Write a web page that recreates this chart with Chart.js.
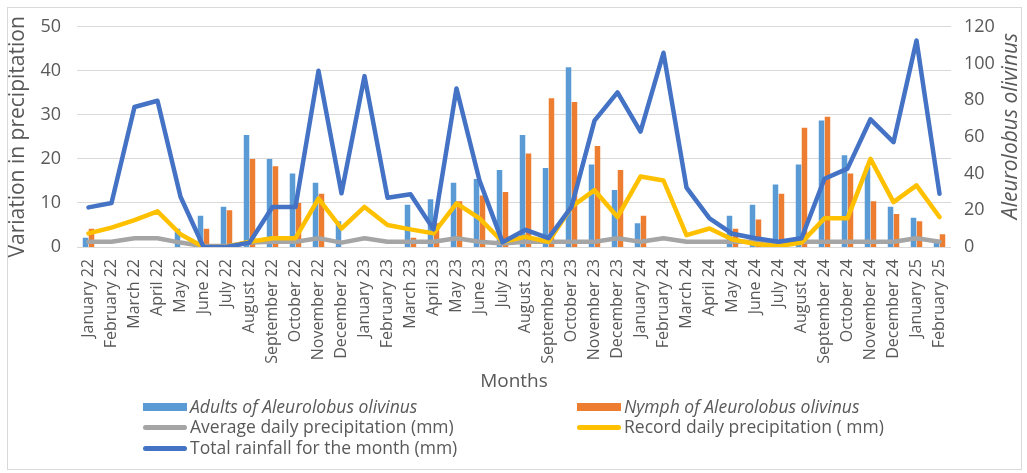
<!DOCTYPE html>
<html><head><meta charset="utf-8">
<script src="https://cdn.jsdelivr.net/npm/chart.js@4/dist/chart.umd.min.js"></script>
<style>
html,body{margin:0;padding:0;background:#fff;}
#wrap{position:relative;width:1027px;height:473px;overflow:hidden;}
#frame{position:absolute;left:7px;top:7px;width:1015px;height:463px;border:1px solid #d9d9d9;box-sizing:border-box;}
#cv{position:absolute;left:0;top:0;}
.leg{position:absolute;font-family:'Open Sans';font-size:17.5px;color:#595959;white-space:nowrap;line-height:20px;}
.sw{position:absolute;}
</style></head><body>
<div id="wrap"><div id="frame"></div><canvas id="cv" width="1027" height="473"></canvas><div id="legend"></div></div>
<script>
const months = ["January 22","February 22","March 22","April 22","May 22","June 22","July 22","August 22","September 22","October 22","November 22","December 22",
"January 23","February 23","March 23","April 23","May 23","June 23","July 23","August 23","September 23","October 23","November 23","December 23",
"January 24","February 24","March 24","April 24","May 24","June 24","July 24","August 24","September 24","October 24","November 24","December 24",
"January 25","February 25"];

// Right axis (Aleurolobus olivinus)
const adults = [5,0,0,0,10,17,22,61,48,40,35,14, 0,0,23,26,35,37,42,61,43,98,45,31, 13,0,0,0,17,23,34,45,69,50,44,22, 16,3];
const nymphs = [10,0,0,0,0,10,20,48,44,24,29,0, 0,0,5,13,25,28,30,51,81,79,55,42, 17,0,0,0,10,15,29,65,71,40,25,18, 14,7];

// Left axis (precipitation)
const avgDaily = [1.2,1.2,2.0,2.0,1.0,0.2,0.2,1.0,1.2,1.2,2.0,1.0, 2.0,1.2,1.2,1.2,2.0,1.2,0.8,1.2,1.2,1.2,1.2,2.0, 1.2,2.0,1.2,1.2,1.2,1.2,1.0,1.2,1.2,1.2,1.2,1.2, 2.0,1.2];
const recordDaily = [3.1,4.4,6.1,8.1,2.9,0,0,1.2,2.0,2.0,11.0,4.2, 9.1,5.0,4.0,3.1,9.9,6.5,1.2,2.3,1.2,9.1,12.9,6.8, 16.0,15.1,2.7,4.2,1.7,0.7,0.2,1.0,6.5,6.5,20.0,10.2, 14.0,6.8];
const totalRain = [9.0,10.0,31.8,33.2,11.4,0,0,1.0,9.1,9.1,40.0,12.2, 38.8,11.2,12.0,4.0,36.0,15.1,1.1,3.9,2.0,9.1,28.7,35.1, 26.2,44.1,13.5,6.5,3.0,2.0,1.2,2.0,15.5,17.8,29.0,23.8, 46.9,12.1];

const leftTicks = [0,10,20,30,40,50];
const rightTicks = [0,20,40,60,80,100,120];

const seriesNames = ["Adults of Aleurolobus olivinus","Nymph of Aleurolobus olivinus","Average daily precipitation (mm)","Record daily precipitation ( mm)","Total rainfall for the month (mm)"];
const seriesColors = ["#5B9BD5","#ED7D31","#A5A5A5","#FFC000","#4472C4"];
const xTitle = "Months";
const leftTitle = "Variation in precipitation";
const rightTitle = "Aleurolobus olivinus";

const TXT = "#595959";
const FONT = "'Open Sans'";

const rightTitlePlugin = {
  id:'rightTitle',
  afterDraw(chart){
    const {ctx} = chart;
    ctx.save();
    ctx.font = 'italic 21px ' + FONT;
    ctx.fillStyle = TXT;
    ctx.textAlign = 'center';
    ctx.textBaseline = 'middle';
    ctx.translate(1011, 126);
    ctx.rotate(-Math.PI/2);
    ctx.fillText(rightTitle, 0, 0);
    ctx.restore();
  }
};

const lineDs = (i, data, order) => ({
  type:'line', label:seriesNames[i], data, yAxisID:'y', order,
  borderColor:seriesColors[i], backgroundColor:seriesColors[i],
  borderWidth:4.5, pointRadius:0, tension:0, fill:false,
  borderCapStyle:'round', borderJoinStyle:'round'
});

new Chart(document.getElementById('cv'), {
  type:'bar',
  data:{
    labels:months,
    datasets:[
      {label:seriesNames[0], data:adults, backgroundColor:seriesColors[0], yAxisID:'y1', order:3, categoryPercentage:0.52, barPercentage:0.92},
      {label:seriesNames[1], data:nymphs, backgroundColor:seriesColors[1], yAxisID:'y1', order:4, categoryPercentage:0.52, barPercentage:0.92},
      lineDs(2, avgDaily, 2),
      lineDs(3, recordDaily, 1),
      lineDs(4, totalRain, 0)
    ]
  },
  options:{
    responsive:false, animation:false,
    layout:{padding:{left:5, right:0, top:25, bottom:78}},
    plugins:{legend:{display:false}, tooltip:{enabled:false}},
    scales:{
      x:{
        grid:{display:false}, border:{display:false},
        ticks:{autoSkip:false, maxRotation:90, minRotation:90, color:TXT, font:{family:FONT, size:16}, padding:4},
        title:{display:true, text:xTitle, color:TXT, font:{family:FONT, size:19}, padding:{top:0,bottom:2}},
        afterFit(s){ s.height = 148; }
      },
      y:{
        position:'left', min:0, max:50,
        afterBuildTicks(s){ s.ticks = leftTicks.map(v=>({value:v})); },
        grid:{color:'#d9d9d9', lineWidth:1, drawTicks:false}, border:{display:false},
        ticks:{color:TXT, font:{family:FONT, size:18}, padding:16},
        title:{display:true, text:leftTitle, color:TXT, font:{family:FONT, size:21}, padding:0},
        afterFit(s){ s.width = 72; }
      },
      y1:{
        position:'right', min:0, max:120,
        afterBuildTicks(s){ s.ticks = rightTicks.map(v=>({value:v})); },
        grid:{display:false, drawTicks:false}, border:{display:false},
        ticks:{color:TXT, font:{family:FONT, size:18}, padding:13},
        afterFit(s){ s.width = 76; }
      }
    }
  },
  plugins:[rightTitlePlugin]
});

// HTML legend (two columns)
const legendSlots = [[143,407],[577,407],[143,427],[577,427],[143,448]];
const legend = document.getElementById('legend');
seriesNames.forEach((name,i)=>{
  const [x,y] = legendSlots[i];
  const sw = document.createElement('div');
  sw.className='sw';
  if(i<2){ Object.assign(sw.style,{left:x+'px',top:(y-4)+'px',width:'44px',height:'8px',background:seriesColors[i]}); }
  else { Object.assign(sw.style,{left:x+'px',top:(y-2)+'px',width:'44px',height:'4.5px',borderRadius:'3px',background:seriesColors[i]}); }
  legend.appendChild(sw);
  const t = document.createElement('div');
  t.className='leg';
  t.textContent = name;
  Object.assign(t.style,{left:(x+47)+'px',top:(y-11)+'px',fontStyle:i<2?'italic':'normal'});
  legend.appendChild(t);
});
</script>
</body></html>
